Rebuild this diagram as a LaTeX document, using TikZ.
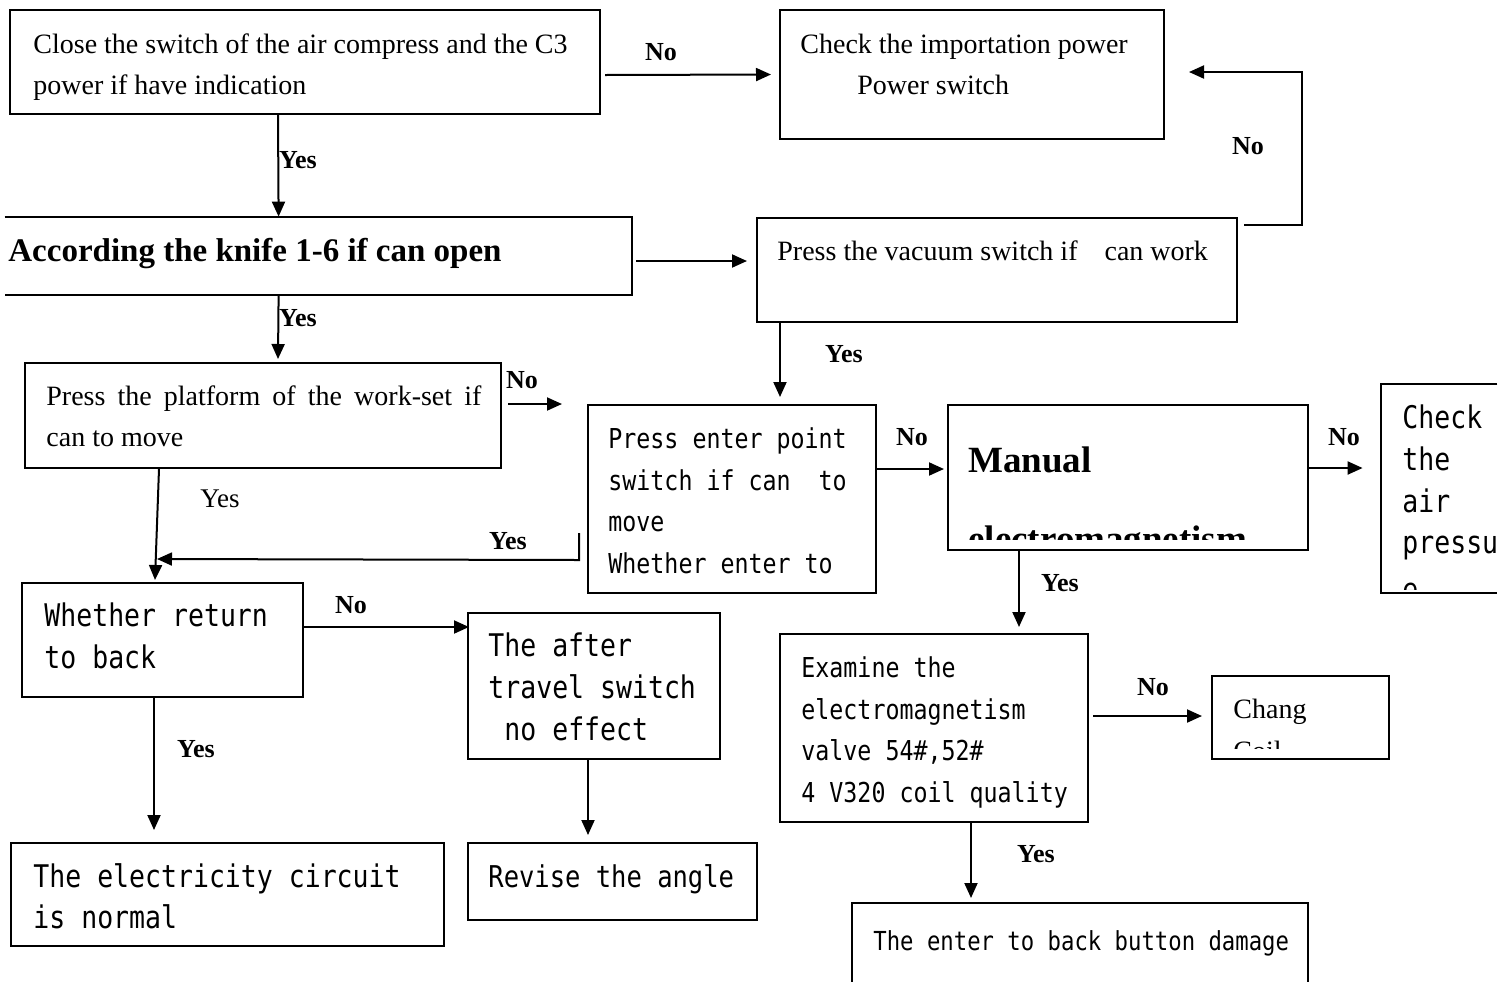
\documentclass[tikz,border=0pt]{standalone}
\usepackage{fontspec}
\setmainfont{Liberation Serif}
\newfontfamily\monof[FakeStretch=0.85]{DejaVu Sans Mono}
\usetikzlibrary{arrows.meta,fit,calc}
\begin{document}
\begin{tikzpicture}[x=0.5pt,y=-0.5pt,
  box/.style={draw,line width=1pt,inner sep=0pt},
  area/.style={inner sep=0pt},
  arr/.style={line width=1pt,-{Triangle[length=7.5pt,width=6.5pt]}},
  conn/.style={line width=1pt},
  sr/.style={anchor=base west,inner sep=0pt,font=\fontsize{14pt}{16pt}\selectfont},
  srb/.style={anchor=base west,inner sep=0pt,font=\fontsize{16.5pt}{19pt}\selectfont\bfseries},
  srbb/.style={anchor=base west,inner sep=0pt,font=\fontsize{18.5pt}{21pt}\selectfont\bfseries},
  mn/.style={anchor=base west,inner sep=0pt,font=\monof\fontsize{15.6pt}{18pt}\selectfont},
  mnm/.style={anchor=base west,inner sep=0pt,font=\monof\fontsize{15pt}{18pt}\selectfont},
  mns/.style={anchor=base west,inner sep=0pt,font=\monof\fontsize{13.7pt}{16pt}\selectfont},
  mnt/.style={anchor=base west,inner sep=0pt,font=\monof\fontsize{13.1pt}{16pt}\selectfont},
  lbl/.style={inner sep=0pt,font=\fontsize{13pt}{15pt}\selectfont\bfseries},
  lbln/.style={inner sep=0pt,font=\fontsize{13.5pt}{15pt}\selectfont},
]
\clip (0,0) rectangle (1511,981);
\fill[white] (0,0) rectangle (1511,981);

% ---- boxes ----
\node[box,fit={(10,10)(600,114)}] (A) {};
\node[box,fit={(780,10)(1164,139)}] (B) {};
\node[area,fit={(5,217)(632,295)}] (C) {};
\draw[line width=1pt] (C.north west) -- (C.north east) -- (C.south east) -- (C.south west);
\node[box,fit={(757,218)(1237,322)}] (D) {};
\node[box,fit={(25,363)(501,468)}] (E) {};
\node[box,fit={(588,405)(876,593)}] (F) {};
\node[box,fit={(948,405)(1308,550)}] (G) {};
\node[area,fit={(1381,384)(1497,593)}] (H) {};
\draw[line width=1pt] (H.north east) -- (H.north west) -- (H.south west) -- (H.south east);
\node[box,fit={(22,583)(303,697)}] (I) {};
\node[box,fit={(468,613)(720,759)}] (J) {};
\node[box,fit={(11,843)(444,946)}] (K) {};
\node[box,fit={(468,843)(757,920)}] (L) {};
\node[box,fit={(780,634)(1088,822)}] (M) {};
\node[box,fit={(1212,676)(1389,759)}] (N) {};
\node[box,fit={(852,903)(1308,995)}] (O) {};

% ---- texts ----
\node[sr] (A1) at (33,53) {Close the switch of the air compress and the C3};
\node[sr] (A2) at (33,94) {power if have indication};
\node[sr] (B1) at (800,53) {Check the importation power};
\node[sr] (B2) at (857,94) {Power switch};
\node[srb] (C1) at (8,261) {According the knife 1-6 if can open};
\node[sr] (D1) at (777,260) {Press the vacuum switch if\hspace{10pt} can work};
\node[sr] (E1) at (46,405) {\makebox[217.5pt][s]{Press the platform of the work-set if}};
\node[sr] (E2) at (46,446) {can to move};
\node[mns] (F1) at (608,448) {Press enter point};
\node[mns] (F2) at (608,490) {switch if can\ \ to};
\node[mns] (F3) at (608,531) {move};
\node[mns] (F4) at (608,573) {Whether enter to};
\node[srbb] (G1) at (968,472) {Manual};
\begin{scope}
  \clip (949,406) rectangle (1307,539);
  \node[srbb] (G2) at (968,551) {electromagnetism};
\end{scope}
\begin{scope}
  \clip (1382,385) rectangle (1497,589);
  \node[mn] (H1) at (1402,428) {Check};
  \node[mn] (H2) at (1402,470) {the};
  \node[mn] (H3) at (1402,512) {air};
  \node[mn] (H4) at (1402,553) {pressur};
  \node[mn] (H5) at (1402,600) {e};
\end{scope}
\node[mn] (I1) at (44,626) {Whether return};
\node[mn] (I2) at (44,668) {to back};
\node[mn] (J1) at (488,656) {The after};
\node[mn] (J2) at (488,698) {travel switch};
\node[mn] (J3) at (504,740) {no effect};
\node[mn] (K1) at (33,887) {The electricity circuit};
\node[mn] (K2) at (33,928) {is normal};
\node[mnm] (L1) at (488,887) {Revise the angle};
\node[mns] (M1) at (801,677) {Examine the};
\node[mns] (M2) at (801,719) {electromagnetism};
\node[mns] (M3) at (801,760) {valve 54\#,52\#};
\node[mns] (M4) at (801,802) {4 V320 coil quality};
\node[sr] (N1) at (1233,718) {Chang};
\begin{scope}
  \clip (1213,677) rectangle (1388,748);
  \node[sr] (N2) at (1233,760) {Coil};
\end{scope}
\node[mnt] (O1) at (873,950) {The enter to back button damage};

% ---- connectors ----
\draw[arr] ($(A.east)+(4,13)$) -- ($(B.west)+(-8,0)$);
\draw[arr] ($(A.south west)+(269,0)$) -- ($(C.north west)+(274,0)$);
\draw[arr] ($(C.east)+(4,5)$) -- ($(D.west)+(-9,-9)$);
\draw[arr] ($(D.north east)+(6,8)$) -| ($(B.east)+(137,-2.5)$) -- ($(B.east)+(24,-2.5)$);
\draw[arr] ($(D.south west)+(24,0)$) -- ($(F.north west)+(193,-7)$);
\draw[arr] ($(C.south west)+(274,0)$) -- ($(E.north west)+(254,-3)$);
\coordinate (Efree) at (562,404);
\draw[arr] ($(E.east)+(6,-11.5)$) -- (Efree);
\draw[arr] ($(F.east)+(0,-30)$) -- ($(G.west)+(-3,-8.5)$);
\draw[arr] ($(G.east)+(0,-9.5)$) -- ($(H.west)+(-18,-20.5)$);
\draw[arr] ($(F.west)+(-8,34)$) -- ($(F.west)+(-8,61)$) -- ($(I.north west)+(136,-23)$);
\draw[arr] ($(E.south west)+(135,0)$) -- ($(I.north west)+(134,-2)$);
\draw[arr] ($(I.east)+(0,-13)$) -- ($(J.west)+(2,-59)$);
\draw[arr] ($(I.south west)+(133,0)$) -- ($(K.north west)+(144,-12)$);
\draw[arr] ($(J.south west)+(121,0)$) -- ($(L.north west)+(121,-7)$);
\draw[arr] ($(G.south west)+(72,0)$) -- ($(M.north west)+(240,-6)$);
\draw[arr] ($(M.east)+(4,-12)$) -- ($(N.west)+(-9,-1.5)$);
\draw[arr] ($(M.south west)+(192,0)$) -- ($(O.north west)+(120,-4)$);

% ---- labels ----
\node[lbl] (l1) at (661,52) {No};
\node[lbl] (l2) at (298,160) {Yes};
\node[lbl] (l3) at (1248,146) {No};
\node[lbl] (l4) at (298,318) {Yes};
\node[lbl] (l5) at (844,354) {Yes};
\node[lbl] (l6) at (522,380) {No};
\node[lbl] (l7) at (912,437) {No};
\node[lbl] (l8) at (1344,437) {No};
\node[lbln] (l9) at (220,499) {Yes};
\node[lbl] (l10) at (508,541) {Yes};
\node[lbl] (l11) at (1060,583) {Yes};
\node[lbl] (l12) at (351,605) {No};
\node[lbl] (l13) at (1153,687) {No};
\node[lbl] (l14) at (196,749) {Yes};
\node[lbl] (l15) at (1036,854) {Yes};
\end{tikzpicture}
\end{document}
